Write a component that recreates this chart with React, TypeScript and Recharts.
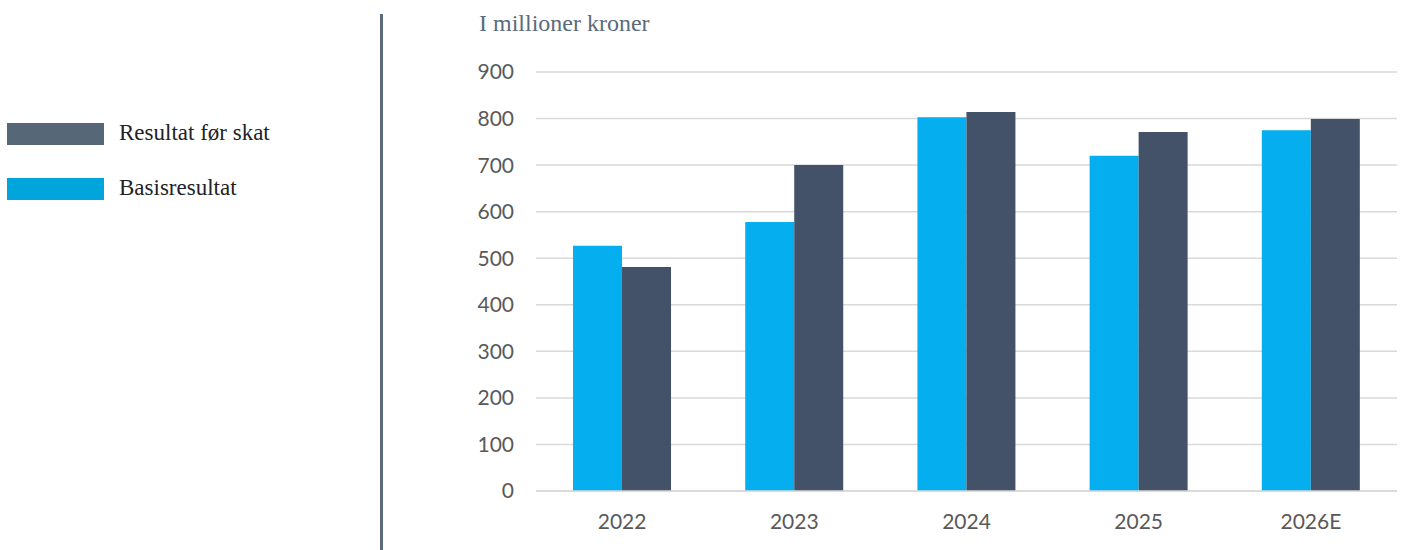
import React from "react";
import { BarChart, Bar, XAxis, YAxis, CartesianGrid } from "recharts";

const categories = ["2022", "2023", "2024", "2025", "2026E"];
const basisresultat = [527, 578, 803, 720, 775];
const resultatForSkat = [481, 700, 814, 771, 799];
const yTicks = [0, 100, 200, 300, 400, 500, 600, 700, 800, 900];

const data = categories.map((c, i) => ({
  year: c,
  basis: basisresultat[i],
  skat: resultatForSkat[i],
}));

const serif = "'Liberation Serif', 'DejaVu Serif', serif";
const sans = "Lato, 'Open Sans', sans-serif";

export default function App() {
  return (
    <div style={{ position: "absolute", left: 0, top: 0, width: 1406, height: 550, background: "#fff", overflow: "hidden" }}>
      <div style={{ position: "absolute", left: 380, top: 14, width: 3, height: 540, background: "#5a6b7b" }} />
      <div style={{ position: "absolute", left: 479, top: 10, fontFamily: serif, fontSize: 24, color: "#5a6b7b", whiteSpace: "nowrap" }}>
        I millioner kroner
      </div>
      <div style={{ position: "absolute", left: 7, top: 123, width: 97, height: 22, background: "#566878" }} />
      <div style={{ position: "absolute", left: 119, top: 120, fontFamily: serif, fontSize: 23, color: "#222", whiteSpace: "nowrap" }}>
        Resultat før skat
      </div>
      <div style={{ position: "absolute", left: 7, top: 178, width: 97, height: 22, background: "#00a6db" }} />
      <div style={{ position: "absolute", left: 119, top: 175, fontFamily: serif, fontSize: 23, color: "#222", whiteSpace: "nowrap" }}>
        Basisresultat
      </div>
      <div style={{ position: "absolute", left: 0, top: 0 }}>
        <BarChart
          width={1406}
          height={550}
          data={data}
          margin={{ top: 72, right: 9, bottom: 29, left: 476 }}
          barGap={0}
          barCategoryGap="21.5%"
        >
          <CartesianGrid vertical={false} stroke="#d9d9d9" strokeWidth={1.5} />
          <XAxis
            dataKey="year"
            axisLine={{ stroke: "#d9d9d9", strokeWidth: 1.5 }}
            tickLine={false}
            tickMargin={17}
            tick={{ fontFamily: sans, fontSize: 21, fill: "#595959" }}
          />
          <YAxis
            width={60}
            domain={[0, 900]}
            ticks={yTicks}
            axisLine={false}
            tickLine={false}
            tickSize={0}
            tickMargin={22}
            tick={{ fontFamily: sans, fontSize: 21, fill: "#595959" }}
          />
          <Bar dataKey="basis" fill="#05aeee" isAnimationActive={false} />
          <Bar dataKey="skat" fill="#435268" isAnimationActive={false} />
        </BarChart>
      </div>
    </div>
  );
}
